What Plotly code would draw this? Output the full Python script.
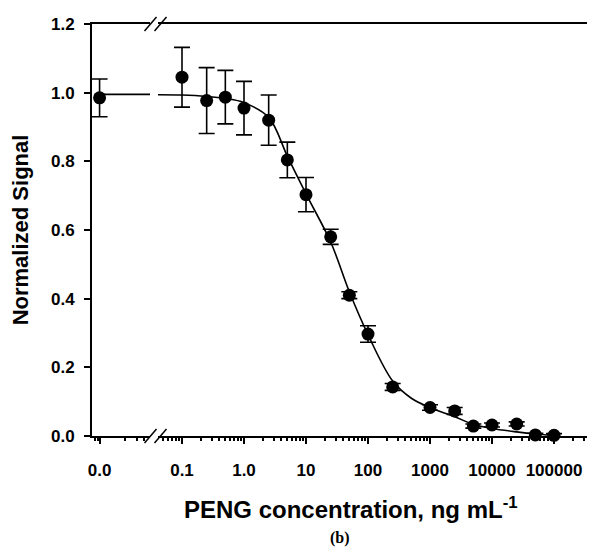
import plotly.graph_objects as go

# ---- data ----
zero_conc = [0.0]
zero_signal = [0.985]
zero_err = [0.055]

conc = [0.1, 0.25, 0.5, 1, 2.5, 5, 10, 25, 50, 100, 250, 1000, 2500,
        5000, 10000, 25000, 50000, 100000]
signal = [1.045, 0.977, 0.987, 0.955, 0.920, 0.804, 0.703, 0.580, 0.410,
          0.297, 0.143, 0.083, 0.073, 0.029, 0.032, 0.035, 0.003, 0.002]
signal_err = [0.087, 0.096, 0.078, 0.078, 0.073, 0.052, 0.050, 0.022, 0.010,
              0.024, 0.010, 0.008, 0.010, 0.006, 0.006, 0.006, 0.005, 0.005]

# fitted curve
fit_zero_conc = [0.0, 0.04]
fit_zero_signal = [0.995, 0.995]
fit_conc = [0.041, 0.1, 0.25, 0.5, 1, 2.5, 5, 10, 25, 50, 100, 250, 500,
            1000, 2500, 5000, 10000, 25000, 50000, 100000]
fit_signal = [0.994, 0.993, 0.989, 0.983, 0.971, 0.928, 0.815, 0.705, 0.565,
              0.420, 0.295, 0.160, 0.110, 0.083, 0.056, 0.034, 0.022, 0.012,
              0.006, 0.002]

x_tickvals = [0.1, 1, 10, 100, 1000, 10000, 100000]
x_ticktext = ["0.1", "1.0", "10", "100", "1000", "10000", "100000"]
y_tickvals = [0.0, 0.2, 0.4, 0.6, 0.8, 1.0, 1.2]

# ---- figure ----
FONT = "Liberation Sans, Arial, sans-serif"
marker = dict(color="black", size=13)
err_style = dict(type="data", visible=True, color="black", thickness=1.6, width=8)

fig = go.Figure()
# left (zero) segment
fig.add_trace(go.Scatter(x=fit_zero_conc, y=fit_zero_signal, mode="lines",
                         line=dict(color="black", width=1.6),
                         xaxis="x", yaxis="y", showlegend=False, cliponaxis=False))
fig.add_trace(go.Scatter(x=zero_conc, y=zero_signal, mode="markers", marker=marker,
                         error_y=dict(array=zero_err, **err_style),
                         xaxis="x", yaxis="y", showlegend=False, cliponaxis=False))
# main log segment
fig.add_trace(go.Scatter(x=fit_conc, y=fit_signal, mode="lines",
                         line=dict(color="black", width=1.6, shape="spline", smoothing=1.0),
                         xaxis="x2", yaxis="y", showlegend=False, cliponaxis=False))
fig.add_trace(go.Scatter(x=conc, y=signal, mode="markers", marker=marker,
                         error_y=dict(array=signal_err, **err_style),
                         xaxis="x2", yaxis="y", showlegend=False, cliponaxis=False))

minor_log = [m * 10 ** e for e in range(-2, 6) for m in range(2, 10)]

# page has an 8px body margin; work in page pixels and convert
OFF = 8
PAGE_W, PAGE_H = 595, 548
W, H = PAGE_W - OFF, PAGE_H - OFF
plot_left, plot_right, plot_top, plot_bottom = 92, 595, 23.5, 436
L = plot_left - OFF
R = W - (plot_right - OFF)
T = plot_top - OFF
B = H - (plot_bottom - OFF)
pw = W - L - R
ph = H - T - B
d1 = (150 - plot_left) / pw
d2 = (158 - plot_left) / pw


def px_to_paper_x(px):
    return (px - plot_left) / pw


def px_to_paper_y(py):
    return 1 - (py - plot_top) / ph


tickfont = dict(family=FONT, size=17, color="black", weight="bold")

fig.update_layout(
    width=W, height=H,
    margin=dict(l=L, r=R, t=T, b=B, pad=0, autoexpand=False),
    paper_bgcolor="white", plot_bgcolor="white",
    font=dict(family=FONT, color="black"),
    xaxis=dict(domain=[0, d1], range=[-0.006, 0.04], anchor="y", automargin=False,
               showline=True, linecolor="black", linewidth=2, mirror=True,
               showgrid=False, zeroline=False,
               ticks="outside", ticklen=6, tickwidth=1.5, tickcolor="black",
               tickvals=[0.0], ticktext=["0.0"], tickfont=tickfont,
               ticklabelstandoff=12,
               minor=dict(ticks="outside", ticklen=3, tickwidth=1.5, tickcolor="black",
                          tickmode="array", tickvals=[-0.004, -0.0015, 0.02, 0.03, 0.035])),
    xaxis2=dict(domain=[d2, 1], type="log", range=[-1.387, 5.661], anchor="y",
                automargin=False,
                showline=True, linecolor="black", linewidth=2, mirror=True,
                showgrid=False, zeroline=False,
                ticks="outside", ticklen=6, tickwidth=1.5, tickcolor="black",
                tickvals=x_tickvals, ticktext=x_ticktext, tickfont=tickfont,
                ticklabelstandoff=12,
                minor=dict(ticks="outside", ticklen=3, tickwidth=1.5, tickcolor="black",
                           tickmode="array", tickvals=minor_log)),
    yaxis=dict(domain=[0, 1], range=[0, 1.2], anchor="x", automargin=False,
               showline=True, linecolor="black", linewidth=2,
               showgrid=False, zeroline=False,
               ticks="outside", ticklen=6, tickwidth=1.5, tickcolor="black",
               tickvals=y_tickvals, tickformat=".1f", tickfont=tickfont,
               ticklabelstandoff=6,
               title=dict(text="Normalized Signal",
                          font=dict(family=FONT, size=22, color="black", weight="bold"),
                          standoff=19)),
)

# axis-break marks (//) at top and bottom
for ycen in (23.5, 436):
    for xc in (150.5, 160.5):
        fig.add_shape(type="line", xref="paper", yref="paper",
                      x0=px_to_paper_x(xc - 6), y0=px_to_paper_y(ycen + 7),
                      x1=px_to_paper_x(xc + 6), y1=px_to_paper_y(ycen - 7),
                      line=dict(color="black", width=1.5))

# x-axis title (centred as in the reference, across the broken axis)
fig.add_annotation(text="<b>PENG concentration, ng mL<sup>-1</sup></b>",
                   xref="paper", yref="paper",
                   x=px_to_paper_x(351), y=px_to_paper_y(508), showarrow=False,
                   font=dict(family=FONT, size=24, color="black"),
                   xanchor="center", yanchor="middle")

fig.add_annotation(text="<b>(b)</b>", xref="paper", yref="paper",
                   x=px_to_paper_x(340), y=px_to_paper_y(538), showarrow=False,
                   font=dict(family="Liberation Serif, Times New Roman, serif", size=16,
                             color="black"),
                   xanchor="center", yanchor="middle")

fig.write_html("out.html")
